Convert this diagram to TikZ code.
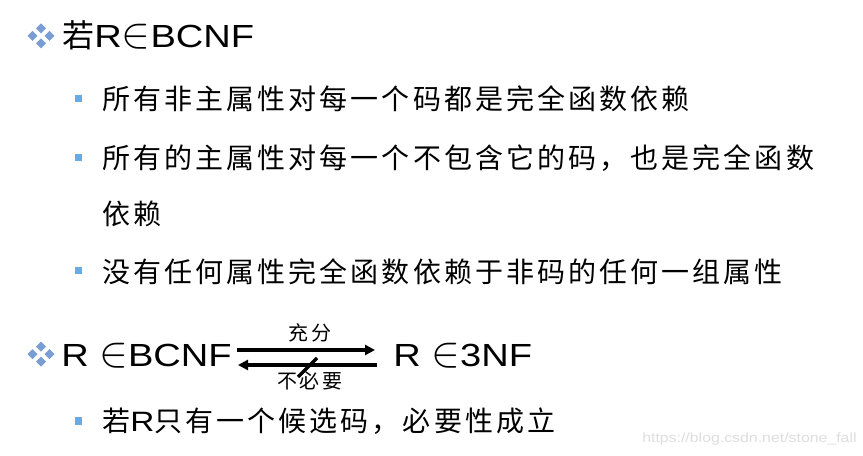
\documentclass[tikz,border=0pt]{standalone}
\usepackage{fontspec}
\setmainfont[FakeStretch=1.19]{Liberation Sans}
\newfontfamily\cjk[LetterSpace=11]{Noto Sans CJK SC}
\usetikzlibrary{arrows.meta}
\definecolor{dblue}{RGB}{122,158,212}
\definecolor{sqblue}{RGB}{102,170,232}
\definecolor{wmark}{RGB}{222,222,222}
\newcommand{\bigin}{\scalebox{1.3}{$\in$}}
\tikzset{
  big/.style={anchor=base west, inner sep=0pt, font=\fontsize{24pt}{28pt}\selectfont},
  body/.style={anchor=base west, inner sep=0pt, font=\fontsize{21pt}{25pt}\selectfont\cjk},
  lbl/.style={inner sep=0pt, font=\fontsize{15pt}{18pt}\selectfont\cjk},
  sq/.style={fill=sqblue, inner sep=0pt, minimum size=5.6pt},
  thickarrow/.style={line width=2.6pt, -{Triangle[length=7.5pt,width=7.5pt]}},
  dcluster/.pic={\foreach \dx/\dy in {0/-7.5,0/7.5,-8.5/0,8.5/0}
    \fill[dblue] (\dx,\dy) +(0,-5) -- +(5,0) -- +(0,5) -- +(-5,0) -- cycle;}
}
\begin{document}
\begin{tikzpicture}[x=0.75pt,y=-0.75pt]
\useasboundingbox (0,0) rectangle (863,456);
\fill[white] (0,0) rectangle (863,456);
% title
\pic at (41,36) {dcluster};
\node[big] (t) at (62,48) {{\cjk 若}R\bigin BCNF};
% bullets
\node[sq] (s1) at (78.5,98.5) {};
\node[body] (l1) at (102,110) {所有非主属性对每一个码都是完全函数依赖};
\node[sq] (s2) at (78.5,157.5) {};
\node[body] (l2) at (102,169) {所有的主属性对每一个不包含它的码，也是完全函数};
\node[body] (l2b) at (102,224) {依赖};
\node[sq] (s3) at (78.5,270.5) {};
\node[body] (l3) at (102,282) {没有任何属性完全函数依赖于非码的任何一组属性};
% relation line
\pic at (41,354) {dcluster};
\node[big] (a) at (61,366) {R \bigin BCNF};
\node[big] (b) at (393,366) {R \bigin 3NF};
\coordinate (p1) at (237,350);
\coordinate (p2) at (375,350);
\coordinate (q1) at (377,365);
\coordinate (q2) at (238,365);
\draw[thickarrow] (p1) -- (p2);
\draw[thickarrow] (q1) -- (q2);
\coordinate (k1) at (298,377);
\coordinate (k2) at (317,358);
\draw[line width=2.4pt] (k1) -- (k2);
\node[lbl] (c1) at (310,333) {充分};
\node[lbl] (c2) at (310,381) {不必要};
% last bullet
\node[sq] (s4) at (78.5,421) {};
\node[body] (l4) at (102,431) {若{\rmfamily R}只有一个候选码，必要性成立};
% watermark
\node[anchor=base west, inner sep=0pt, text=wmark, font=\fontsize{10pt}{12pt}\selectfont] (w) at (642,442) {https://blog.csdn.net/stone\_fall};
\end{tikzpicture}
\end{document}
